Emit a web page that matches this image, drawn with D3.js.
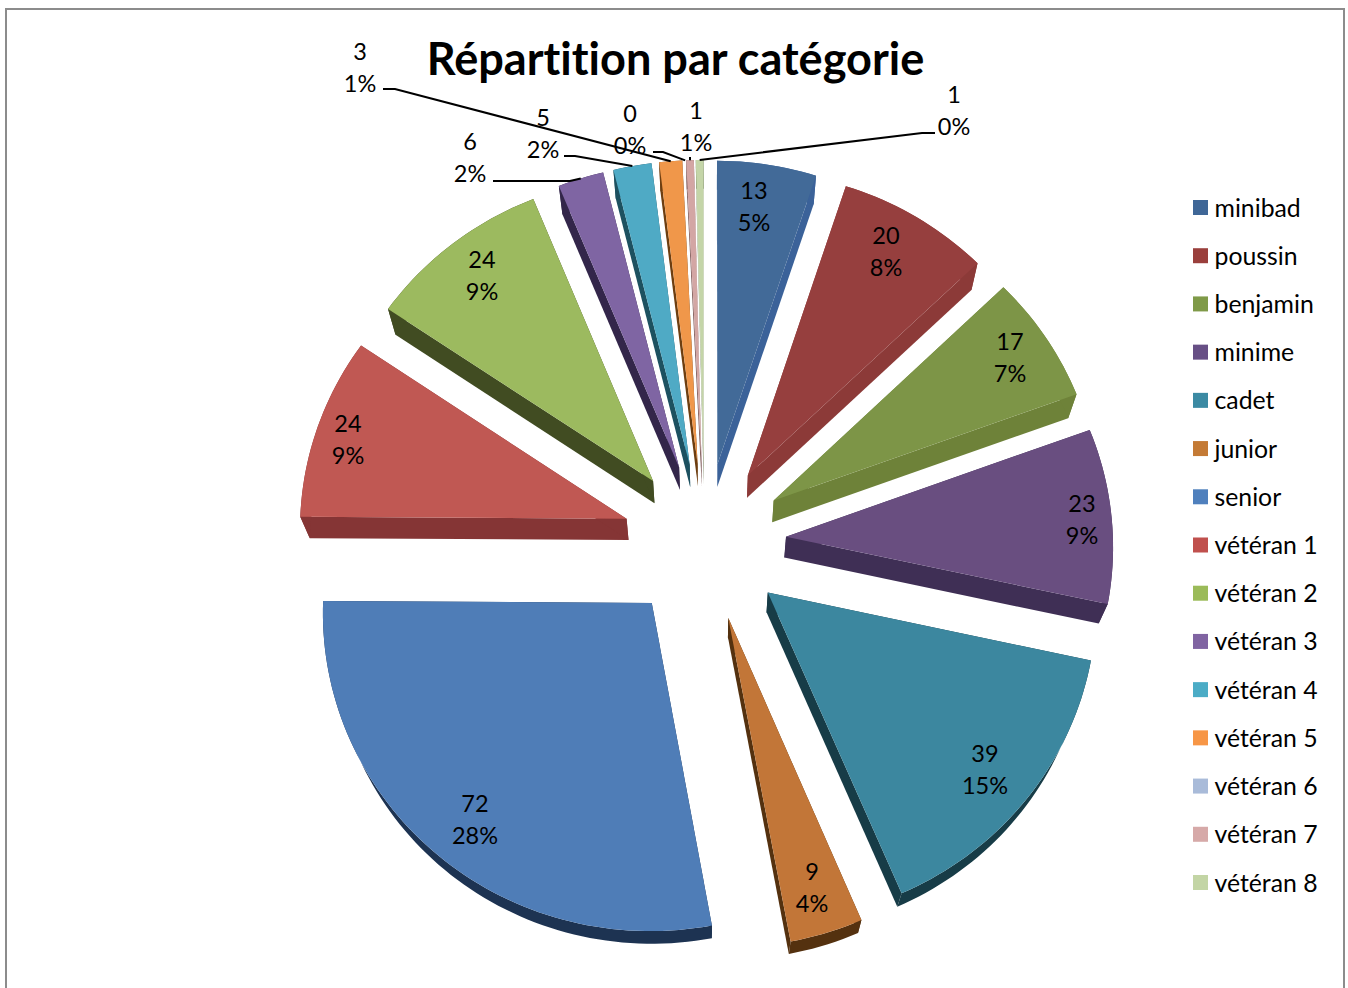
<!DOCTYPE html>
<html><head><meta charset="utf-8">
<script src="https://cdnjs.cloudflare.com/ajax/libs/d3/7.8.5/d3.min.js"></script>
<style>html,body{margin:0;padding:0;background:#fff;overflow:hidden}svg{display:block}text{font-family:Lato,"Open Sans",sans-serif;fill:#000;font-variant-ligatures:none}</style>
</head><body><svg id="c" width="1348" height="988"></svg>
<script>
const categories=["minibad","poussin","benjamin","minime","cadet","junior","senior","vétéran 1","vétéran 2","vétéran 3","vétéran 4","vétéran 5","vétéran 6","vétéran 7","vétéran 8"];
const values=[13,20,17,23,39,9,72,24,24,6,5,3,0,1,1];
const percents=["5%","8%","7%","9%","15%","4%","28%","9%","9%","2%","2%","1%","0%","1%","0%"];
const topColors=["#426a98","#963f3e","#7d9547","#694e80","#3c879f","#c27638","#4f7db7","#c05853","#9cba5f","#7f65a3","#4faac5","#f0974a","#a9bbd9","#d3a6a4","#c4d5a8"];
const sideColors=["#3b6299","#8c3a38","#6e8239","#3f2f55","#173c47","#54310f","#1d3352","#853535","#414c22","#33264a","#1d5160","#6e3e10","#5a6a85","#7a5553","#6b7a55"];
const legendColors=["#3f6797","#9a3f3c","#7f9a48","#674f85","#3b8aa3","#c47a35","#4f80bd","#c0504d","#9bbb59","#8064a2","#4bacc6","#f79646","#a9bbd9","#d6a9a8","#c3d5a5"];
const labelAnchors=[[754,206],[886,251],[1010,357],[1082,519],[985,769],[812,887],[475,819],[348,439],[482,275],[470,157],[543,133],[360,67],[630,129],[696,126],[954,110]];
const leaderElbows={9:[[493,181],[570,181]],10:[[564,156],[575,156]],11:[[383,89],[395,89]],12:[[653,152],[663,152]],13:[[690,157]],14:[[935,133],[922,133]]};

const svg=d3.select("#c");
const sx=d3.scaleLinear().domain([-1,1]).range([704.5-327,704.5+327]);
const sy=d3.scaleLinear().domain([-1,1]).range([542-316,542+316]);
const persp=0.027, explode=0.25;
const project=(X,Y)=>{const w=1-persp*Y;return [sx(X/w),sy(Y/w)];};
const extrude=([x,y])=>[0.977*x+16.4,0.979*y+32.2];
const line=d3.line();
const pie=d3.pie().sort(null).value(d=>d);
const arcs=pie(values);

svg.append("rect").attr("x",6).attr("y",9).attr("width",1338).attr("height",1000).attr("fill","#fff").attr("stroke","#8c8c8c").attr("stroke-width",2);

function rimPoint(a,ang){const m=(a.startAngle+a.endAngle)/2;
  return project(explode*Math.sin(m)+Math.sin(ang),-explode*Math.cos(m)-Math.cos(ang));}
const outlines=arcs.map(a=>{
  const m=(a.startAngle+a.endAngle)/2;
  const pts=[project(explode*Math.sin(m),-explode*Math.cos(m))];
  const n=Math.max(2,Math.ceil((a.endAngle-a.startAngle)/0.025));
  d3.range(n+1).forEach(i=>pts.push(rimPoint(a,a.startAngle+(a.endAngle-a.startAngle)*i/n)));
  return pts;
});
arcs.forEach((a,i)=>{
  if(a.value===0)return;
  const pts=outlines[i], apex=pts[0], rim=pts.slice(1), last=rim[rim.length-1];
  const g=svg.append("g").attr("fill",sideColors[i]);
  g.append("path").attr("d",line([apex,rim[0],extrude(rim[0]),extrude(apex)])+"Z");
  g.append("path").attr("d",line([last,apex,extrude(apex),extrude(last)])+"Z");
  g.append("path").attr("d",line([...rim,...rim.map(extrude).reverse()])+"Z");
});
arcs.forEach((a,i)=>{
  if(a.value===0)return;
  svg.append("path").attr("d",line(outlines[i])+"Z").attr("fill",topColors[i]);
});

Object.keys(leaderElbows).forEach(k=>{
  const i=+k,a=arcs[i],m=(a.startAngle+a.endAngle)/2;
  const end=rimPoint(a,m);
  svg.append("path").attr("d",line([...leaderElbows[k],end])).attr("fill","none").attr("stroke","#000").attr("stroke-width",2);
});

const lblSize=23.5;
arcs.forEach((a,i)=>{
  const [x,y]=labelAnchors[i];
  const t=svg.append("text").attr("text-anchor","middle").attr("font-size",lblSize);
  t.append("tspan").attr("x",x).attr("y",y-7.5).text(values[i]);
  t.append("tspan").attr("x",x).attr("y",y+24.5).text(percents[i]);
});

svg.append("text").attr("x",675.5).attr("y",75).attr("text-anchor","middle").attr("font-size",45.1).attr("font-weight",700).text("Répartition par catégorie");

const ly=d3.scalePoint().domain(categories).range([207.5,882.5]);
categories.forEach((c,i)=>{
  svg.append("rect").attr("x",1193).attr("y",ly(c)-7.5).attr("width",15).attr("height",15).attr("fill",legendColors[i]);
  svg.append("text").attr("x",1214.5).attr("y",ly(c)+9).attr("font-size",24.8).text(c);
});
</script></body></html>
